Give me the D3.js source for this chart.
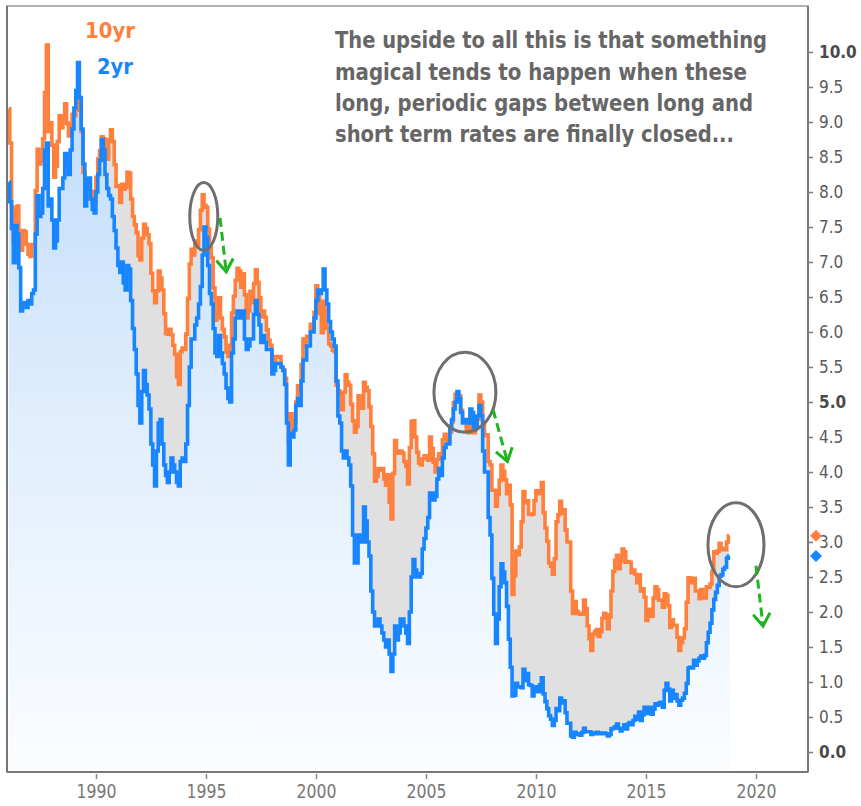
<!DOCTYPE html>
<html>
<head>
<meta charset="utf-8">
<script src="https://cdn.jsdelivr.net/npm/d3@7"></script>
<style>
  html, body { margin: 0; padding: 0; background: #fff; }
  svg { display: block; }
</style>
</head>
<body>
<svg id="chart" width="861" height="806"></svg>
<script>
// ---------------- DATA (monthly, starting Jan 1986) ----------------
const startYear = 1986;
const tenYr = [
  9.19, 8.70, 7.78, 7.30, 7.71, 7.80, 7.30, 7.17, 7.45, 7.43, 7.25, 7.11,
  7.08, 7.25, 7.25, 8.02, 8.61, 8.40, 8.45, 8.76, 9.42, 10.10, 8.86, 8.99,
  8.67, 8.21, 8.37, 8.72, 9.09, 8.92, 9.06, 9.26, 8.98, 8.80, 8.96, 9.11,
  9.09, 9.17, 9.36, 9.18, 8.86, 8.28, 8.02, 8.11, 8.19, 8.01, 7.87, 7.84,
  8.21, 8.47, 8.59, 8.79, 8.76, 8.48, 8.47, 8.75, 8.89, 8.72, 8.39, 8.08,
  8.09, 7.85, 8.11, 8.04, 8.07, 8.28, 8.27, 7.90, 7.65, 7.53, 7.42, 7.09,
  7.03, 7.34, 7.54, 7.48, 7.39, 7.26, 6.84, 6.59, 6.42, 6.59, 6.87, 6.77,
  6.60, 6.26, 5.98, 5.97, 6.04, 5.96, 5.81, 5.68, 5.36, 5.25, 5.72, 5.77,
  5.75, 5.97, 6.48, 6.97, 7.18, 7.10, 7.30, 7.24, 7.46, 7.74, 7.96, 7.81,
  7.78, 7.47, 7.20, 7.06, 6.63, 6.17, 6.28, 6.49, 6.20, 6.04, 5.93, 5.71,
  5.65, 5.81, 6.27, 6.51, 6.74, 6.91, 6.87, 6.64, 6.83, 6.53, 6.20, 6.30,
  6.58, 6.42, 6.69, 6.89, 6.71, 6.49, 6.22, 6.30, 6.21, 6.03, 5.88, 5.81,
  5.54, 5.57, 5.65, 5.64, 5.65, 5.50, 5.46, 5.34, 4.81, 4.40, 4.83, 4.65,
  4.72, 5.00, 5.23, 5.18, 5.54, 5.90, 5.79, 5.94, 5.92, 6.11, 6.03, 6.28,
  6.66, 6.52, 6.26, 5.99, 6.44, 6.10, 6.05, 5.83, 5.80, 5.74, 5.72, 5.24,
  5.16, 5.10, 4.89, 5.14, 5.39, 5.28, 5.24, 4.97, 4.73, 4.57, 4.65, 5.09,
  5.04, 4.91, 5.28, 5.21, 5.16, 4.93, 4.65, 4.26, 3.87, 3.94, 4.05, 4.03,
  4.05, 3.90, 3.81, 3.96, 3.57, 3.33, 3.98, 4.45, 4.27, 4.29, 4.30, 4.27,
  4.15, 4.08, 3.83, 4.35, 4.72, 4.73, 4.50, 4.28, 4.13, 4.10, 4.19, 4.23,
  4.22, 4.17, 4.50, 4.34, 4.14, 4.00, 4.18, 4.26, 4.20, 4.46, 4.54, 4.47,
  4.42, 4.57, 4.72, 4.99, 5.11, 5.11, 5.09, 4.88, 4.72, 4.73, 4.60, 4.56,
  4.76, 4.72, 4.56, 4.69, 4.75, 5.10, 5.00, 4.67, 4.52, 4.53, 4.15, 4.10,
  3.74, 3.74, 3.51, 3.68, 3.88, 4.10, 4.01, 3.89, 3.69, 3.81, 3.53, 2.25,
  2.52, 2.87, 2.82, 2.93, 3.29, 3.72, 3.56, 3.59, 3.40, 3.39, 3.40, 3.59,
  3.73, 3.69, 3.73, 3.85, 3.42, 3.20, 3.01, 2.70, 2.65, 2.54, 2.76, 3.29,
  3.39, 3.58, 3.41, 3.46, 3.17, 3.00, 3.00, 2.30, 1.98, 2.15, 2.01, 1.98,
  1.97, 1.97, 2.17, 2.05, 1.80, 1.62, 1.45, 1.68, 1.72, 1.75, 1.65, 1.72,
  1.91, 1.98, 1.96, 1.76, 1.93, 2.30, 2.58, 2.74, 2.81, 2.62, 2.72, 2.90,
  2.86, 2.71, 2.72, 2.71, 2.56, 2.60, 2.54, 2.42, 2.53, 2.30, 2.33, 2.21,
  1.88, 1.98, 2.04, 1.94, 2.20, 2.36, 2.32, 2.17, 2.17, 2.07, 2.26, 2.24,
  2.09, 1.78, 1.89, 1.81, 1.81, 1.64, 1.45, 1.56, 1.63, 1.76, 2.14, 2.49,
  2.43, 2.42, 2.48, 2.30, 2.30, 2.19, 2.32, 2.21, 2.20, 2.36, 2.35, 2.40,
  2.58, 2.86, 2.84, 2.87, 2.98, 2.91, 2.89, 2.89, 3.00, 3.09
];
const twoYr = [
  8.14, 7.86, 7.48, 6.99, 7.52, 7.40, 6.92, 6.30, 6.40, 6.42, 6.35, 6.45,
  6.40, 6.55, 6.60, 7.40, 7.95, 7.65, 7.70, 8.05, 8.60, 8.70, 7.80, 7.90,
  7.60, 7.20, 7.30, 7.60, 8.05, 8.05, 8.20, 8.55, 8.40, 8.25, 8.60, 8.90,
  9.20, 9.45, 9.85, 9.35, 8.90, 8.40, 7.80, 8.10, 8.20, 7.90, 7.75, 7.70,
  8.00, 8.25, 8.45, 8.75, 8.60, 8.25, 8.05, 7.95, 7.90, 7.65, 7.45, 7.20,
  6.95, 6.85, 7.00, 6.70, 6.60, 6.95, 6.90, 6.45, 6.05, 5.75, 5.40, 4.95,
  4.70, 5.15, 5.45, 5.25, 5.10, 4.90, 4.40, 4.10, 3.80, 4.30, 4.70, 4.75,
  4.40, 4.10, 3.95, 3.85, 4.00, 4.20, 4.10, 4.00, 3.85, 3.80, 4.15, 4.20,
  4.15, 4.40, 4.95, 5.50, 5.90, 5.90, 6.10, 6.20, 6.40, 6.65, 7.10, 7.50,
  7.35, 6.95, 6.55, 6.40, 6.05, 5.70, 5.65, 5.95, 5.70, 5.55, 5.40, 5.20,
  5.05, 5.00, 5.70, 5.90, 6.20, 6.30, 6.30, 6.20, 6.30, 5.90, 5.75, 5.80,
  5.90, 5.90, 6.25, 6.45, 6.25, 6.10, 5.85, 5.95, 5.85, 5.75, 5.75, 5.75,
  5.40, 5.45, 5.55, 5.55, 5.55, 5.50, 5.45, 5.25, 4.70, 4.10, 4.55, 4.50,
  4.60, 4.95, 5.05, 4.95, 5.30, 5.60, 5.60, 5.80, 5.80, 6.00, 6.00, 6.20,
  6.45, 6.60, 6.55, 6.60, 6.90, 6.60, 6.40, 6.15, 6.00, 5.90, 5.80, 5.30,
  4.80, 4.70, 4.30, 4.20, 4.30, 4.20, 4.10, 3.80, 3.10, 2.70, 2.70, 3.10,
  3.00, 3.00, 3.50, 3.30, 3.00, 2.80, 2.30, 2.00, 1.80, 1.80, 1.90, 1.80,
  1.70, 1.60, 1.50, 1.60, 1.40, 1.15, 1.40, 1.80, 1.60, 1.70, 1.90, 1.90,
  1.80, 1.70, 1.55, 2.00, 2.50, 2.75, 2.60, 2.50, 2.50, 2.55, 2.90, 3.05,
  3.20, 3.35, 3.70, 3.70, 3.60, 3.65, 3.90, 4.05, 3.95, 4.20, 4.35, 4.40,
  4.40, 4.65, 4.75, 4.90, 5.00, 5.15, 5.05, 4.85, 4.70, 4.75, 4.70, 4.70,
  4.90, 4.85, 4.60, 4.65, 4.80, 4.95, 4.80, 4.30, 4.00, 4.00, 3.35, 3.10,
  2.48, 1.97, 1.55, 1.90, 2.36, 2.69, 2.57, 2.42, 2.08, 1.61, 1.21, 0.80,
  0.81, 0.98, 0.93, 0.93, 0.92, 1.18, 1.02, 1.12, 0.96, 0.95, 0.80, 0.87,
  0.93, 0.86, 0.96, 1.06, 0.83, 0.72, 0.62, 0.52, 0.47, 0.38, 0.45, 0.62,
  0.59, 0.77, 0.70, 0.73, 0.56, 0.41, 0.41, 0.23, 0.21, 0.28, 0.25, 0.26,
  0.24, 0.28, 0.34, 0.29, 0.29, 0.29, 0.25, 0.27, 0.26, 0.28, 0.27, 0.26,
  0.27, 0.27, 0.26, 0.23, 0.25, 0.33, 0.34, 0.36, 0.40, 0.34, 0.30, 0.34,
  0.39, 0.33, 0.40, 0.42, 0.39, 0.45, 0.51, 0.47, 0.57, 0.45, 0.53, 0.64,
  0.55, 0.62, 0.64, 0.54, 0.61, 0.69, 0.67, 0.70, 0.71, 0.64, 0.88, 0.98,
  0.90, 0.73, 0.88, 0.77, 0.82, 0.73, 0.67, 0.74, 0.77, 0.84, 0.98, 1.20,
  1.21, 1.20, 1.31, 1.24, 1.30, 1.34, 1.37, 1.34, 1.38, 1.56, 1.71, 1.84,
  2.03, 2.18, 2.28, 2.38, 2.51, 2.53, 2.61, 2.64, 2.77, 2.80
];
const gapShadeFromYear = 1989;
const yTicks = [0, 0.5, 1, 1.5, 2, 2.5, 3, 3.5, 4, 4.5, 5, 5.5, 6, 6.5, 7, 7.5, 8, 8.5, 9, 9.5, 10];
const xTickYears = [1990, 1995, 2000, 2005, 2010, 2015, 2020];
const seriesNames = ["10yr", "2yr"];
const noteLines = [
  "The upside to all this is that something",
  "magical tends to happen when these",
  "long, periodic gaps between long and",
  "short term rates are finally closed..."
];
// highlighted spots: [year, yield]
const circleSpots = [[1994.9, 7.65], [2006.77, 5.14], [2019.09, 2.96]];
// arrows: [[year, yield] start, [year, yield] end]
const arrowSpots = [
  [[1995.64, 7.63], [1995.92, 6.86]],
  [[2008.05, 4.89], [2008.70, 4.15]],
  [[2020.00, 2.66], [2020.32, 1.80]]
];

// ---------------- LAYOUT ----------------
const plot = { left: 7, right: 808, top: 6, bottom: 772 };
const ORANGE = "#ff7f3d", BLUE = "#1685ff";
const FONT = "'DejaVu Sans Condensed', 'DejaVu Sans', sans-serif";

const svg = d3.select("#chart");

const yearToDate = yr => {
  const y0 = Math.floor(yr);
  const a = new Date(y0, 0, 1), b = new Date(y0 + 1, 0, 1);
  return new Date(a.getTime() + (yr - y0) * (b - a));
};

const x = d3.scaleTime()
  .domain([yearToDate(1985.955), yearToDate(2022.364)])
  .range([plot.left, plot.right]);
const y = d3.scaleLinear()
  .domain([-0.2857, 10.657])
  .range([plot.bottom, plot.top]);

const rows = tenYr.map((v, i) => ({
  date: new Date(startYear, i, 15),
  ten: v,
  two: twoYr[i]
}));
const gapRows = rows.filter(d => d.date >= new Date(gapShadeFromYear, 0, 1));

// defs
const defs = svg.append("defs");
defs.append("clipPath").attr("id", "clip")
  .append("rect")
  .attr("x", plot.left).attr("y", plot.top)
  .attr("width", plot.right - plot.left).attr("height", plot.bottom - plot.top);
const grad = defs.append("linearGradient").attr("id", "blueFill")
  .attr("gradientUnits", "userSpaceOnUse")
  .attr("x1", 0).attr("x2", 0).attr("y1", y(10)).attr("y2", plot.bottom);
grad.append("stop").attr("offset", 0).attr("stop-color", "#bcdbfb");
grad.append("stop").attr("offset", 0.55).attr("stop-color", "#e3effd");
grad.append("stop").attr("offset", 1).attr("stop-color", "#fbfdff");

const g = svg.append("g").attr("clip-path", "url(#clip)");

// gray gap area (10yr down to bottom), then blue area on top (2yr down to bottom)
g.append("path").datum(gapRows)
  .attr("fill", "#e0e0e0")
  .attr("d", d3.area().curve(d3.curveStep)
    .x(d => x(d.date)).y0(plot.bottom).y1(d => y(d.ten)));
g.append("path").datum(rows)
  .attr("fill", "url(#blueFill)")
  .attr("d", d3.area().curve(d3.curveStep)
    .x(d => x(d.date)).y0(plot.bottom).y1(d => y(d.two)));

// lines
g.append("path").datum(rows)
  .attr("fill", "none").attr("stroke", ORANGE).attr("stroke-width", 3.6)
  .attr("d", d3.line().curve(d3.curveStep).x(d => x(d.date)).y(d => y(d.ten)));
g.append("path").datum(rows)
  .attr("fill", "none").attr("stroke", BLUE).attr("stroke-width", 3.6)
  .attr("d", d3.line().curve(d3.curveStep).x(d => x(d.date)).y(d => y(d.two)));

// frame
svg.append("rect")
  .attr("x", plot.left).attr("y", plot.top)
  .attr("width", plot.right - plot.left).attr("height", plot.bottom - plot.top)
  .attr("fill", "none").attr("stroke", "#999").attr("stroke-width", 1.5);
svg.append("line")
  .attr("x1", plot.left).attr("x2", plot.right)
  .attr("y1", plot.bottom).attr("y2", plot.bottom)
  .attr("stroke", "#777").attr("stroke-width", 2);
svg.append("line")
  .attr("x1", plot.left).attr("x2", plot.left)
  .attr("y1", plot.top).attr("y2", plot.bottom)
  .attr("stroke", "#777").attr("stroke-width", 2);

// right axis
const yAxis = svg.append("g")
  .attr("transform", `translate(${plot.right},0)`)
  .call(d3.axisRight(y).tickValues(yTicks).tickSize(5).tickPadding(6)
    .tickFormat(d3.format(".1f")));
yAxis.select(".domain").attr("stroke", "#777").attr("stroke-width", 2)
  .attr("d", `M0,${plot.top}V${plot.bottom}`);
yAxis.selectAll(".tick line").attr("stroke", "#777").attr("stroke-width", 1.5);
yAxis.selectAll(".tick text")
  .attr("font-family", FONT).attr("font-size", 17)
  .attr("fill", d => (d % 5 === 0 ? "#4a4a4a" : "#5a5a5a"))
  .attr("font-weight", d => (d % 5 === 0 ? "bold" : "normal"));

// bottom axis
const xAxis = svg.append("g")
  .attr("transform", `translate(0,${plot.bottom + 1})`)
  .call(d3.axisBottom(x).tickValues(xTickYears.map(yr => new Date(yr, 0, 1)))
    .tickSize(6).tickPadding(6).tickFormat(d3.timeFormat("%Y")));
xAxis.select(".domain").remove();
xAxis.selectAll(".tick line").attr("stroke", "#888").attr("stroke-width", 1.5)
  .attr("y1", 1);
xAxis.selectAll(".tick text")
  .attr("font-family", FONT).attr("font-size", 19).attr("fill", "#777")
  .attr("textLength", 40).attr("lengthAdjust", "spacingAndGlyphs");

// last-value diamonds on the right axis
const lastRow = rows[rows.length - 1];
const diamondPath = "M0,-6L6,0L0,6L-6,0Z";
[[lastRow.ten, ORANGE], [lastRow.two, BLUE]].forEach(([v, c]) => {
  svg.append("path").attr("d", diamondPath)
    .attr("transform", `translate(${plot.right + 8},${y(v)})`)
    .attr("fill", c);
});

// legend labels
svg.append("text").text(seriesNames[0])
  .attr("x", 135).attr("y", 38).attr("text-anchor", "end")
  .attr("font-family", FONT).attr("font-weight", "bold").attr("font-size", 21)
  .attr("fill", ORANGE).attr("textLength", 50).attr("lengthAdjust", "spacingAndGlyphs");
svg.append("text").text(seriesNames[1])
  .attr("x", 133).attr("y", 74).attr("text-anchor", "end")
  .attr("font-family", FONT).attr("font-weight", "bold").attr("font-size", 21)
  .attr("fill", BLUE).attr("textLength", 36).attr("lengthAdjust", "spacingAndGlyphs");

// annotation text
const noteWidths = [432, 412, 418, 399];
const noteBase = [48, 79.5, 111, 142];
noteLines.forEach((t, i) => {
  svg.append("text").text(t)
    .attr("x", 335).attr("y", noteBase[i])
    .attr("font-family", FONT).attr("font-weight", "bold").attr("font-size", 22.5)
    .attr("fill", "#666")
    .attr("textLength", noteWidths[i]).attr("lengthAdjust", "spacingAndGlyphs");
});

// circles
const radii = [[14, 34], [31, 40], [28, 42]];
circleSpots.forEach(([yr, v], i) => {
  svg.append("ellipse")
    .attr("cx", x(yearToDate(yr))).attr("cy", y(v))
    .attr("rx", radii[i][0]).attr("ry", radii[i][1])
    .attr("fill", "none").attr("stroke", "#6e6e6e").attr("stroke-width", 3);
});

// green dashed arrows
arrowSpots.forEach(([s, e]) => {
  const x1 = x(yearToDate(s[0])), y1 = y(s[1]);
  const x2 = x(yearToDate(e[0])), y2 = y(e[1]);
  svg.append("line")
    .attr("x1", x1).attr("y1", y1).attr("x2", x2).attr("y2", y2)
    .attr("stroke", "#1fb51f").attr("stroke-width", 3)
    .attr("stroke-dasharray", "9,5");
  const ang = Math.atan2(y2 - y1, x2 - x1);
  const L = 15, spread = 0.6;
  const p1 = [x2 - L * Math.cos(ang - spread), y2 - L * Math.sin(ang - spread)];
  const p2 = [x2 - L * Math.cos(ang + spread), y2 - L * Math.sin(ang + spread)];
  svg.append("path")
    .attr("d", `M${p1[0]},${p1[1]}L${x2},${y2}L${p2[0]},${p2[1]}`)
    .attr("fill", "none").attr("stroke", "#1fb51f").attr("stroke-width", 3);
});
</script>
</body>
</html>
